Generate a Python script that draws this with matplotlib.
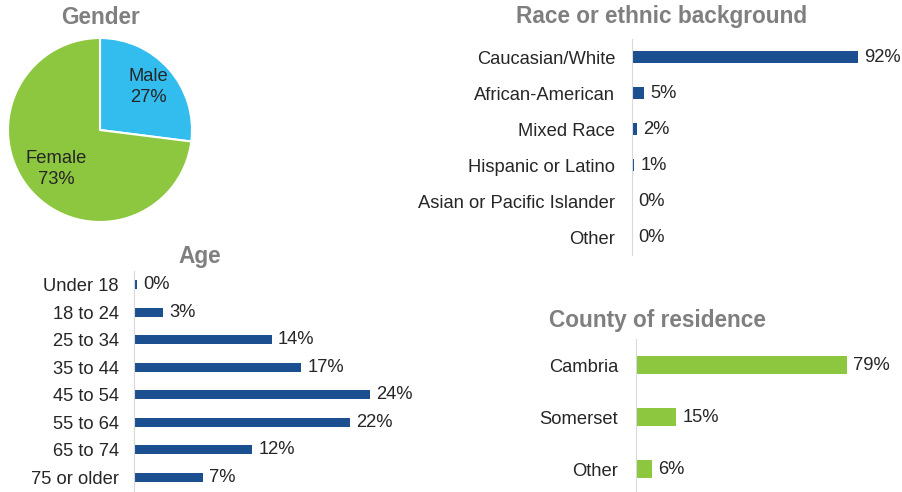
import matplotlib
matplotlib.use("Agg")
import matplotlib.pyplot as plt
import numpy as np

plt.rcParams["font.family"] = ["Liberation Sans", "DejaVu Sans"]

# data
gender_labels = ["Male", "Female"]
gender_values = [27, 73]

race_labels = ["Caucasian/White", "African-American", "Mixed Race",
               "Hispanic or Latino", "Asian or Pacific Islander", "Other"]
race_values = [92, 5, 2, 1, 0, 0]

age_labels = ["Under 18", "18 to 24", "25 to 34", "35 to 44",
              "45 to 54", "55 to 64", "65 to 74", "75 or older"]
age_values = [0.3, 3, 14, 17, 24, 22, 12, 7]

county_labels = ["Cambria", "Somerset", "Other"]
county_values = [79, 15, 6]

BLUE = "#1b4f8f"
GREEN = "#8dc63f"
SKY = "#33bdef"
TEXT = "#262626"
TITLE = "#7f7f7f"
W, H = 902, 492
FS = 13.2
TFS = 16.3


def px_axes(fig, left, top, right, bottom):
    return fig.add_axes([left / W, 1 - bottom / H, (right - left) / W, (bottom - top) / H])


def bar_panel(ax, labels, values, color, xmax, ylim, height, pad):
    ax.barh(range(len(values)), values, height=height, color=color)
    ax.set_yticks(range(len(values)))
    ax.set_yticklabels(labels, fontsize=FS, color=TEXT)
    ax.tick_params(axis="y", length=0, pad=pad)
    ax.set_xticks([])
    ax.set_xlim(0, xmax)
    ax.set_ylim(*ylim)
    for s in ["top", "right", "bottom"]:
        ax.spines[s].set_visible(False)
    ax.spines["left"].set_color("#d9d9d9")
    for i, v in enumerate(values):
        ax.annotate(f"{v:.0f}%", (v, i), xytext=(4.5, 0), textcoords="offset points",
                    va="center", ha="left", fontsize=FS, color=TEXT)


fig = plt.figure(figsize=(W / 100, H / 100), dpi=100)

# Gender pie
ax = px_axes(fig, 8, 38, 192, 222)
wedges, _ = ax.pie(gender_values, colors=[SKY, GREEN], startangle=90, counterclock=False,
                   wedgeprops=dict(edgecolor="white", linewidth=1.5))
ax.set_xlim(-1, 1)
ax.set_ylim(-1, 1)
ax.set_aspect("equal")
for w, lab, val, r in zip(wedges, gender_labels, gender_values, [0.7, 0.64]):
    ang = np.deg2rad((w.theta1 + w.theta2) / 2)
    ax.text(r * np.cos(ang), r * np.sin(ang), f"{lab}\n{val}%", ha="center",
            va="center", fontsize=FS, color=TEXT, linespacing=1.3)
fig.text(100 / W, 1 - 17 / H, "Gender", ha="center", va="center", fontsize=TFS,
         fontweight="bold", color=TITLE)

# Race
ax = px_axes(fig, 632, 39, 882, 255)
bar_panel(ax, race_labels, race_values, BLUE, 250 / 2.46, (5.5, -0.5), 0.33, 12)
fig.text(662 / W, 1 - 16 / H, "Race or ethnic background", ha="center", va="center",
         fontsize=TFS, fontweight="bold", color=TITLE)

# Age
ax = px_axes(fig, 134, 271, 404, 491)
bar_panel(ax, age_labels, age_values, BLUE, 270 / 9.83, (7.5, -0.5), 0.33, 11)
fig.text(200 / W, 1 - 257 / H, "Age", ha="center", va="center", fontsize=TFS,
         fontweight="bold", color=TITLE)

# County
ax = px_axes(fig, 636, 339, 886, 492)
bar_panel(ax, county_labels, county_values, GREEN, 250 / 2.67, (2.44, -0.5), 0.34, 13)
fig.text(657 / W, 1 - 321 / H, "County of residence", ha="center", va="center", fontsize=TFS,
         fontweight="bold", color=TITLE)

fig.savefig("out.png", dpi=100)
